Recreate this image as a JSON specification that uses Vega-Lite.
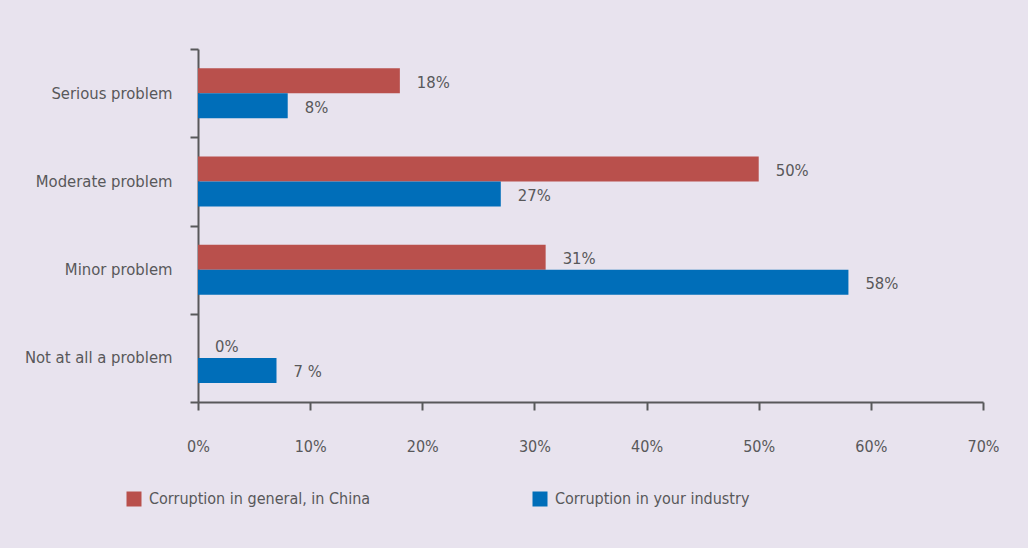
{
  "$schema": "https://vega.github.io/schema/vega-lite/v6.json",
  "autosize": {"type": "none"},
  "width": 785,
  "height": 353,
  "padding": {"left": 198, "top": 49, "right": 45, "bottom": 146},
  "background": "#e8e3ee",
  "config": {
    "view": {"stroke": null},
    "font": "DejaVu Sans Condensed, Roboto, sans-serif",
    "text": {"font": "DejaVu Sans Condensed, Roboto, sans-serif"}
  },
  "data": {
    "values": [
      {"category": "Serious problem", "series": "Corruption in general, in China", "value": 18, "label": "18%"},
      {"category": "Serious problem", "series": "Corruption in your industry", "value": 8, "label": "8%"},
      {"category": "Moderate problem", "series": "Corruption in general, in China", "value": 50, "label": "50%"},
      {"category": "Moderate problem", "series": "Corruption in your industry", "value": 27, "label": "27%"},
      {"category": "Minor problem", "series": "Corruption in general, in China", "value": 31, "label": "31%"},
      {"category": "Minor problem", "series": "Corruption in your industry", "value": 58, "label": "58%"},
      {"category": "Not at all a problem", "series": "Corruption in general, in China", "value": 0, "label": "0%"},
      {"category": "Not at all a problem", "series": "Corruption in your industry", "value": 7, "label": "7 %"}
    ]
  },
  "encoding": {
    "y": {
      "field": "category",
      "type": "nominal",
      "sort": ["Serious problem", "Moderate problem", "Minor problem", "Not at all a problem"],
      "scale": {"paddingInner": 0, "paddingOuter": 0},
      "axis": {
        "title": null,
        "tickBand": "extent",
        "tickSize": 8,
        "tickWidth": 2,
        "tickColor": "#58585a",
        "domainColor": "#58585a",
        "domainWidth": 2,
        "labelPadding": 18,
        "labelFont": "DejaVu Sans Condensed, Roboto, sans-serif",
        "labelFontSize": 16.5,
        "labelColor": "#58585a"
      }
    },
    "yOffset": {
      "field": "series",
      "type": "nominal",
      "sort": ["Corruption in general, in China", "Corruption in your industry"],
      "scale": {"paddingInner": 0, "paddingOuter": 0.765}
    },
    "x": {
      "field": "value",
      "type": "quantitative",
      "scale": {"domain": [0, 70], "nice": false},
      "axis": {
        "title": null,
        "values": [0, 10, 20, 30, 40, 50, 60, 70],
        "labelExpr": "datum.value + '%'",
        "labelFlush": false,
        "grid": false,
        "tickSize": 8,
        "tickWidth": 2,
        "tickColor": "#58585a",
        "domainColor": "#58585a",
        "domainWidth": 2,
        "labelPadding": 28,
        "labelFont": "DejaVu Sans Condensed, Roboto, sans-serif",
        "labelFontSize": 16,
        "labelColor": "#58585a"
      }
    }
  },
  "layer": [
    {
      "mark": {"type": "bar", "cornerRadius": 0},
      "encoding": {
        "color": {
          "field": "series",
          "type": "nominal",
          "sort": ["Corruption in general, in China", "Corruption in your industry"],
          "scale": {"domain": ["Corruption in general, in China", "Corruption in your industry"], "range": ["#b9504c", "#006eb9"]},
          "legend": {
            "title": null,
            "orient": "none",
            "legendX": -72,
            "legendY": 442,
            "direction": "horizontal",
            "columns": 2,
            "columnPadding": 161,
            "symbolType": "square",
            "symbolSize": 225,
            "symbolStrokeWidth": 0,
            "symbolOpacity": 1,
            "labelOffset": 7,
            "labelFont": "DejaVu Sans Condensed, Roboto, sans-serif",
            "labelFontSize": 16,
            "labelColor": "#58585a",
            "labelLimit": 400
          }
        }
      }
    },
    {
      "mark": {"type": "text", "align": "left", "baseline": "middle", "dx": 17, "dy": 2, "fontSize": 16.5, "color": "#58585a", "font": "DejaVu Sans Condensed, Roboto, sans-serif"},
      "encoding": {
        "text": {"field": "label", "type": "nominal"}
      }
    }
  ]
}
